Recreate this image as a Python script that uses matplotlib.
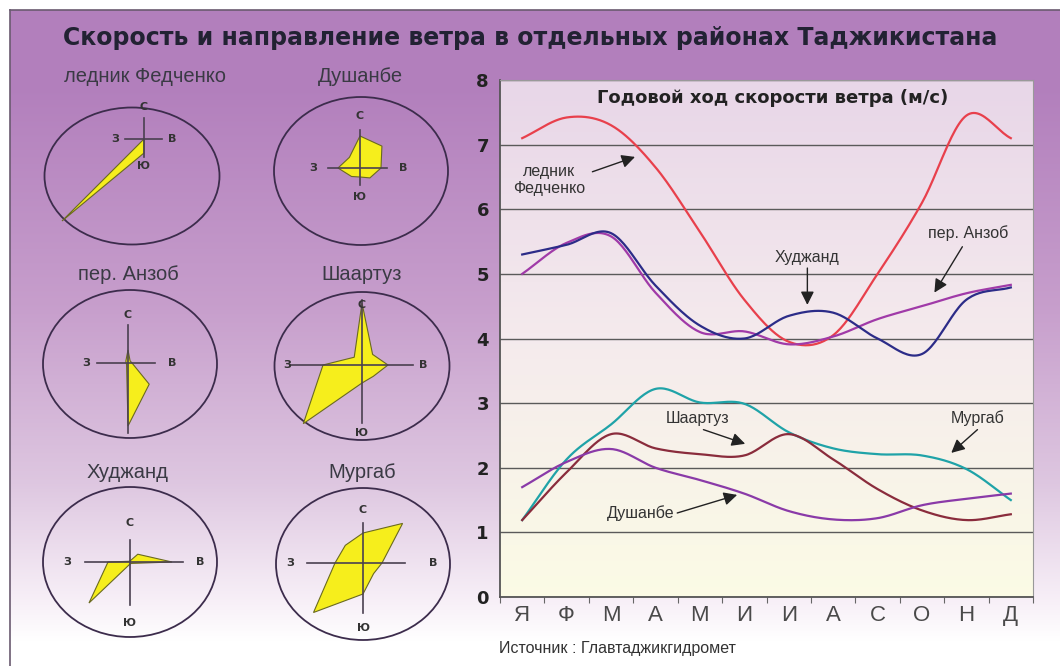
import numpy as np
import matplotlib
matplotlib.use("Agg")
import matplotlib.pyplot as plt
from matplotlib.patches import Ellipse, Polygon

# ---------------- data ----------------
months = ["Я", "Ф", "М", "А", "М", "И", "И", "А", "С", "О", "Н", "Д"]
fedchenko = [7.1, 7.42, 7.3, 6.65, 5.65, 4.6, 3.95, 4.05, 5.0, 6.1, 7.45, 7.1]
khujand = [5.3, 5.45, 5.63, 4.82, 4.2, 4.0, 4.35, 4.4, 4.0, 3.76, 4.6, 4.79]
anzob = [5.0, 5.48, 5.58, 4.71, 4.1, 4.11, 3.91, 4.03, 4.3, 4.5, 4.7, 4.83]
murgab = [1.19, 2.13, 2.67, 3.22, 3.01, 2.99, 2.55, 2.3, 2.21, 2.19, 1.98, 1.5]
shaartuz = [1.19, 1.93, 2.52, 2.3, 2.21, 2.19, 2.52, 2.13, 1.67, 1.34, 1.19, 1.28]
dushanbe = [1.7, 2.09, 2.29, 2.0, 1.81, 1.6, 1.33, 1.2, 1.22, 1.42, 1.52, 1.6]

# wind roses: relative frequency by direction N, NE, E, SE, S, SW, W, NW
rose_names = ["ледник Федченко", "Душанбе", "пер. Анзоб", "Шаартуз", "Худжанд", "Мургаб"]
rose_fedchenko = [0, 0, 0, 0, 14, 116, 0, 0]
rose_dushanbe = [32, 31, 21, 14, 9, 12, 22, 15]
rose_anzob = [13, 3, 4, 30, 63, 2, 2, 3]
rose_shaartuz = [62, 15, 26, 16, 18, 83, 39, 11]
rose_khujand = [1, 11, 42, 2, 2, 58, 22, 1]
rose_murgab = [30, 56, 19, 15, 31, 70, 28, 25]
rose_values = [rose_fedchenko, rose_dushanbe, rose_anzob, rose_shaartuz, rose_khujand, rose_murgab]

W, H = 1060, 666
fig = plt.figure(figsize=(W / 100, H / 100), dpi=100)
LS = ["Liberation Sans", "DejaVu Sans"]

# ---------------- background ----------------
bg = fig.add_axes([0, 0, 1, 1], zorder=0)
bg.set_xlim(0, W)
bg.set_ylim(H, 0)
bg.axis("off")
ys = np.arange(H)
stops_y = [0, 80, 300, 480, 600, 640, 666]
top = np.array([0.70, 0.50, 0.74])
cols = [top, top, np.array([0.78, 0.62, 0.80]), np.array([0.87, 0.78, 0.88]),
        np.array([0.97, 0.94, 0.97]), np.array([1, 1, 1]), np.array([1, 1, 1])]
grad = np.zeros((H, 1, 3))
for c in range(3):
    grad[:, 0, c] = np.interp(ys, stops_y, [col[c] for col in cols])
bg.imshow(grad, extent=[10, W, H, 10], aspect="auto", zorder=0)
bg.plot([10, W], [10, 10], color="#6a5a70", lw=1.2, zorder=1)
bg.plot([10, 10], [10, H], color="#6a5a70", lw=1.2, zorder=1)

fig.text(0.5, 1 - 38 / H, "Скорость и направление ветра в отдельных районах Таджикистана",
         ha="center", va="center", fontsize=17, fontweight="bold", color="#222233",
         family=["DejaVu Sans"])

# ---------------- wind roses ----------------
layout = [
    dict(lab=(145, 77), ell=(132, 176, 175, 137), c=(144, 139),
         h=(-19, 18), v=(-21, 18), L=dict(N=32, W=29, E=28, S=27)),
    dict(lab=(360, 77), ell=(361, 171, 174, 148), c=(360, 168),
         h=(-32, 27), v=(-38, 17), L=dict(N=52, W=47, E=43, S=29)),
    dict(lab=(128, 275), ell=(130, 364, 174, 148), c=(128, 363),
         h=(-31, 27), v=(-38, 70), L=dict(N=48, W=42, E=44)),
    dict(lab=(362, 275), ell=(362, 366, 175, 148), c=(362, 365),
         h=(-72, 51), v=(-65, 58), L=dict(N=60, W=75, E=61, S=68)),
    dict(lab=(128, 472), ell=(130, 562, 174, 150), c=(130, 562),
         h=(-45, 53), v=(-22, 43), L=dict(N=39, W=63, E=70, S=61)),
    dict(lab=(362, 472), ell=(363, 564, 174, 152), c=(363, 563),
         h=(-56, 42), v=(-40, 50), L=dict(N=53, W=73, E=70, S=65)),
]
angles = np.deg2rad([90, 45, 0, -45, -90, -135, 180, 135])
letters = dict(N="С", W="З", E="В", S="Ю")
for name, vals, lay in zip(rose_names, rose_values, layout):
    bg.text(lay["lab"][0], lay["lab"][1], name, ha="center", va="center",
            fontsize=14.5, color="#3a3a44", family=LS, zorder=3)
    ex, ey, ew, eh = lay["ell"]
    bg.add_patch(Ellipse((ex, ey), ew, eh, facecolor="none", edgecolor="#3c2c4c", lw=1.3, zorder=3))
    cx, cy = lay["c"]
    r = np.array(vals, dtype=float)
    px = cx + r * np.cos(angles)
    py = cy - r * np.sin(angles)
    bg.add_patch(Polygon(np.column_stack([px, py]), closed=True, facecolor="#f6ee1c",
                         edgecolor="#6a6a20", lw=0.8, zorder=4))
    bg.plot([cx + lay["h"][0], cx + lay["h"][1]], [cy, cy], color="#4a4050", lw=1.2, zorder=5)
    bg.plot([cx, cx], [cy + lay["v"][0], cy + lay["v"][1]], color="#4a4050", lw=1.2, zorder=5)
    for k, off in lay["L"].items():
        dx = {"N": 0, "S": 0, "W": -off, "E": off}[k]
        dy = {"N": -off, "S": off, "W": 0, "E": 0}[k]
        bg.text(cx + dx, cy + dy, letters[k], ha="center", va="center", fontsize=8,
                fontweight="bold", color="#333", zorder=6)

# ---------------- line chart ----------------
ax = fig.add_axes([500 / W, 1 - 597 / H, 533 / W, (597 - 80) / H], zorder=2)
pgrad = np.zeros((100, 1, 3))
py_ = np.linspace(0, 1, 100)  # row 0 = top
pgrad[:, 0, 0] = np.interp(py_, [0, 0.5, 1], [0.91, 0.96, 0.985])
pgrad[:, 0, 1] = np.interp(py_, [0, 0.5, 1], [0.84, 0.92, 0.985])
pgrad[:, 0, 2] = np.interp(py_, [0, 0.5, 1], [0.91, 0.93, 0.90])
ax.imshow(pgrad, extent=[-0.5, 11.5, 0, 8], origin="upper", aspect="auto", zorder=0)
ax.set_xlim(-0.5, 11.5)
ax.set_ylim(0, 8)


def smooth(y, n=24):
    y = np.asarray(y, float)
    x = np.arange(len(y), dtype=float)
    xp = np.concatenate([[x[0] - 1], x, [x[-1] + 1]])
    yp = np.concatenate([[2 * y[0] - y[1]], y, [2 * y[-1] - y[-2]]])
    xs, ysm = [], []
    for i in range(1, len(xp) - 2):
        p0, p1, p2, p3 = yp[i - 1], yp[i], yp[i + 1], yp[i + 2]
        t = np.linspace(0, 1, n, endpoint=False)
        seg = 0.5 * ((2 * p1) + (-p0 + p2) * t + (2 * p0 - 5 * p1 + 4 * p2 - p3) * t ** 2
                     + (-p0 + 3 * p1 - 3 * p2 + p3) * t ** 3)
        xs.extend(xp[i] + t)
        ysm.extend(seg)
    xs.append(x[-1])
    ysm.append(y[-1])
    return np.array(xs), np.array(ysm)


series = [(fedchenko, "#e8404c"), (anzob, "#a03aa8"), (khujand, "#2c2c88"),
          (murgab, "#1fa3a8"), (shaartuz, "#8a2c3c"), (dushanbe, "#8a3aa8")]
for vals, col in series:
    xs, ysm = smooth(vals)
    ax.plot(xs, ysm, color=col, lw=1.6, zorder=3)

ax.set_yticks(range(0, 9))
ax.set_yticklabels([str(i) for i in range(9)], fontsize=13, fontweight="bold", color="#222")
ax.tick_params(axis="y", length=0, pad=8)
ax.set_xticks(np.arange(-0.5, 12, 1))
ax.set_xticklabels([""] * 13)
ax.tick_params(axis="x", which="major", length=4, color="#666", direction="out")
ax.set_xticks(np.arange(12), minor=True)
ax.set_xticklabels(months, minor=True, fontsize=16, color="#4a4a4a", family=LS)
ax.tick_params(axis="x", which="minor", length=0, pad=6)
ax.grid(axis="y", color="#5a5a5a", lw=1.0, zorder=1)
ax.set_axisbelow(True)
for s in ["left", "bottom"]:
    ax.spines[s].set_color("#555")
    ax.spines[s].set_linewidth(1.3)
for s in ["top", "right"]:
    ax.spines[s].set_color("#999")
    ax.spines[s].set_linewidth(0.8)

ax.text(5.63, 7.72, "Годовой ход скорости ветра (м/с)", ha="center", va="center",
        fontsize=13, fontweight="bold", color="#222", zorder=5)

afont = dict(fontsize=11.5, color="#333", family=LS, zorder=5)
aprops = dict(arrowstyle="-|>", color="#222", lw=1.0, mutation_scale=20, shrinkA=0, shrinkB=0)
ax.text(0.6, 6.45, "ледник\nФедченко", ha="center", va="center", linespacing=1.2, **afont)
ax.annotate("", xy=(2.54, 6.81), xytext=(1.58, 6.58), arrowprops=aprops, zorder=5)
ax.text(6.42, 5.26, "Худжанд", ha="center", va="center", **afont)
ax.annotate("", xy=(6.42, 4.52), xytext=(6.42, 5.09), arrowprops=aprops, zorder=5)
ax.text(10.05, 5.63, "пер. Анзоб", ha="center", va="center", **afont)
ax.annotate("", xy=(9.28, 4.71), xytext=(9.91, 5.42), arrowprops=aprops, zorder=5)
ax.text(3.94, 2.76, "Шаартуз", ha="center", va="center", **afont)
ax.annotate("", xy=(5.02, 2.37), xytext=(4.08, 2.59), arrowprops=aprops, zorder=5)
ax.text(10.25, 2.77, "Мургаб", ha="center", va="center", **afont)
ax.annotate("", xy=(9.66, 2.23), xytext=(10.25, 2.59), arrowprops=aprops, zorder=5)
ax.text(2.66, 1.30, "Душанбе", ha="center", va="center", **afont)
ax.annotate("", xy=(4.84, 1.58), xytext=(3.49, 1.30), arrowprops=aprops, zorder=5)

fig.text(499 / W, 1 - 648 / H, "Источник : Главтаджикгидромет", ha="left", va="center",
         fontsize=11.5, color="#333", family=LS)

fig.savefig("out.png", dpi=100)
